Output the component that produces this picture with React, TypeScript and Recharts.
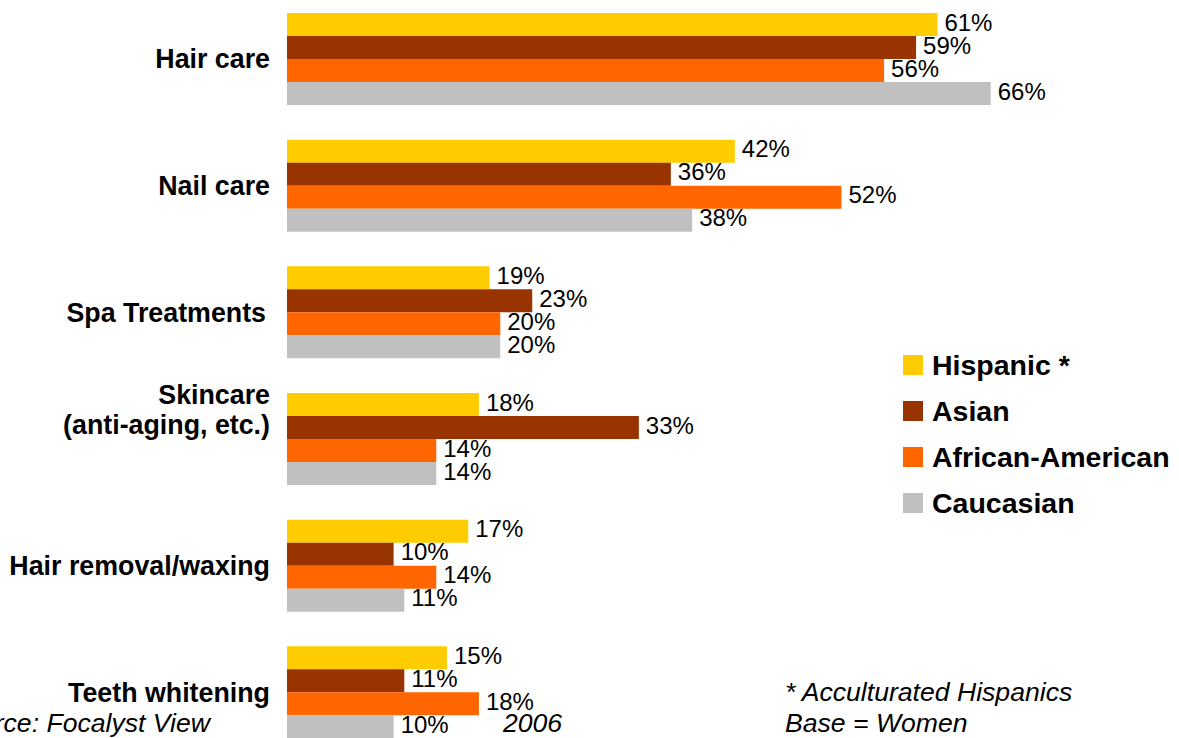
import { BarChart, Bar, XAxis, YAxis, LabelList } from 'recharts';

const categories = [
  'Hair care',
  'Nail care',
  'Spa Treatments',
  'Skincare\n(anti-aging, etc.)',
  'Hair removal/waxing',
  'Teeth whitening',
];
const hispanic = [61, 42, 19, 18, 17, 15];
const asian = [59, 36, 23, 33, 10, 11];
const africanAmerican = [56, 52, 20, 14, 14, 18];
const caucasian = [66, 38, 20, 14, 11, 10];

const seriesKeys = ['hispanic', 'asian', 'africanAmerican', 'caucasian'];
const seriesNames = ['Hispanic *', 'Asian', 'African-American', 'Caucasian'];
const seriesColors = ['#FFCC00', '#993300', '#FF6600', '#C0C0C0'];

const FONT = '"Liberation Sans", Arial, Helvetica, sans-serif';

const chartData = categories.map((name, i) => ({
  name,
  hispanic: hispanic[i],
  asian: asian[i],
  africanAmerican: africanAmerican[i],
  caucasian: caucasian[i],
}));

function CategoryTick({ y, payload }: any) {
  const lines = String(payload.value).split('\n');
  // two-line label sits higher than the band centre in the original
  const offsets = lines.length > 1 ? [-35, -5] : [9];
  const right = payload.value === 'Spa Treatments' ? 266 : 270;
  return (
    <g>
      {lines.map((line, i) => (
        <text
          key={i}
          x={right}
          y={y + offsets[i]}
          textAnchor="end"
          fontFamily={FONT}
          fontSize={26.8}
          fontWeight="bold"
          fill="#000"
        >
          {line}
        </text>
      ))}
    </g>
  );
}

function ValueLabel({ x, y, width, height, value }: any) {
  return (
    <text
      x={x + width + 7}
      y={y + height / 2 + 6}
      fontFamily={FONT}
      fontSize={24}
      fill="#000"
    >
      {`${value}%`}
    </text>
  );
}

export default function App() {
  return (
    <div
      style={{
        position: 'absolute',
        left: 0,
        top: 0,
        width: 1179,
        height: 738,
        overflow: 'hidden',
        background: '#fff',
      }}
    >
      <div style={{ marginTop: -4 }}>
        <BarChart
          width={1179}
          height={760}
          data={chartData}
          layout="vertical"
          margin={{ top: 0, right: 39, bottom: 0, left: 0 }}
          barSize={23}
          barGap={0}
        >
          <XAxis type="number" domain={[0, 80]} hide />
          <YAxis
            type="category"
            dataKey="name"
            width={287}
            axisLine={false}
            tickLine={false}
            interval={0}
            tick={<CategoryTick />}
          />
          {seriesKeys.map((key, i) => (
            <Bar key={key} dataKey={key} name={seriesNames[i]} fill={seriesColors[i]} isAnimationActive={false}>
              <LabelList dataKey={key} content={<ValueLabel />} />
            </Bar>
          ))}
        </BarChart>
      </div>

      <div style={{ position: 'absolute', left: 903, top: 342, fontFamily: FONT }}>
        {seriesNames.map((name, i) => (
          <div key={name} style={{ display: 'flex', alignItems: 'center', height: 46 }}>
            <div style={{ width: 20, height: 20, background: seriesColors[i], marginRight: 9 }} />
            <span style={{ fontSize: 28.5, fontWeight: 'bold', color: '#000' }}>{name}</span>
          </div>
        ))}
      </div>

      <svg
        width={1179}
        height={738}
        style={{ position: 'absolute', left: 0, top: 0, pointerEvents: 'none' }}
      >
        <g fontFamily={FONT} fontSize={26.6} fontStyle="italic" fill="#000">
          <text x={210} y={732} textAnchor="end">Source: Focalyst View</text>
          <text x={503} y={732}>2006</text>
          <text x={785} y={701}>* Acculturated Hispanics</text>
          <text x={785} y={732}>Base = Women</text>
        </g>
      </svg>
    </div>
  );
}
